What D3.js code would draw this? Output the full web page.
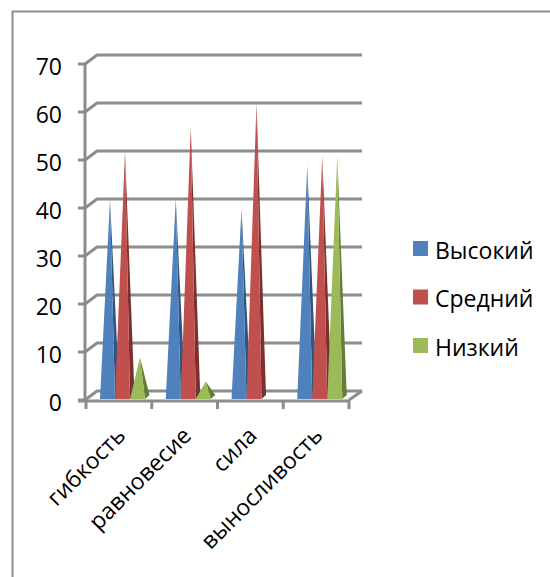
<!DOCTYPE html>
<html><head><meta charset="utf-8">
<script src="https://cdn.jsdelivr.net/npm/d3@7/dist/d3.min.js"></script>
<style>html,body{margin:0;padding:0;background:#fff}svg{display:block}text{font-family:"Open Sans","Noto Sans",sans-serif;fill:#000}</style>
</head><body><div id="c"></div>
<script>
const categories=["гибкость","равновесие","сила","выносливость"];
const seriesNames=["Высокий","Средний","Низкий"];
const high=[41,41,39,48];
const mid=[51,56,61,50];
const low=[8,3,0,50];
const yTicks=[0,10,20,30,40,50,60,70];
const colors=["#4f81bd","#c0504d","#9bbb59"];
const sideColors=["#2f5580","#7c302e","#647d37"];

const W=550,H=577;
const svg=d3.select("#c").append("svg").attr("width",W).attr("height",H);
svg.append("path").attr("d",`M12.5,${H} V11.5 H${W}`).attr("fill","none").attr("stroke","#8e8e8e").attr("stroke-width",2);

const y=d3.scaleLinear().domain([0,70]).range([400,64]);
const x=d3.scaleBand().domain(categories).range([86,349]);
const inner=d3.scaleBand().domain(seriesNames).range([14,59]);
const dx=12,dy=-9,grey="#8c8c8c";

const g=svg.append("g").attr("fill","none").attr("stroke",grey).attr("stroke-width",3);
g.selectAll("path.grid").data(yTicks).join("path").attr("class","grid")
 .attr("d",v=>`M85,${y(v)} L${85+dx},${y(v)+dy} H362`);
g.append("path").attr("d",`M349,${y(0)} L${349+dx+1},${y(0)+dy}`);

const rows=[high,mid,low];
categories.forEach((c,i)=>{
  seriesNames.forEach((s,k)=>{
    const v=rows[k][i];
    if(!v) return;
    const l=x(c)+inner(s), r=l+inner.bandwidth(), b=y(0)-1;
    const ax=(l+r)/2+2.5, ay=y(v)-4;
    const gg=svg.append("g");
    gg.append("path").attr("d",`M${r},${b} L${ax},${ay} L${r+4.5},${b-4} Z`).attr("fill",sideColors[k]);
    gg.append("path").attr("d",`M${l},${b} L${ax},${ay} L${r},${b} Z`).attr("fill",colors[k]);
  });
});

const ax=svg.append("g").attr("fill","none").attr("stroke",grey).attr("stroke-width",3);
ax.append("path").attr("d",`M85,${y(70)-1} V${y(0)+1}`);
ax.append("path").attr("d",`M78,${y(0)+1} H350`);
ax.selectAll("path.yt").data(yTicks).join("path").attr("class","yt").attr("d",v=>`M78,${y(v)} H85`);
const edges=categories.map(c=>x(c)).concat([x.range()[1]]);
ax.selectAll("path.xt").data(edges).join("path").attr("class","xt").attr("d",e=>`M${e},${y(0)} V409`);

svg.selectAll("text.yl").data(yTicks).join("text").attr("class","yl")
 .attr("x",62).attr("y",v=>y(v)+10.5).attr("text-anchor","end").attr("font-size",23).text(v=>v);
svg.selectAll("text.xl").data(categories).join("text").attr("class","xl")
 .attr("text-anchor","end").attr("font-size",23)
 .attr("transform",c=>`translate(${x(c)+x.bandwidth()/2+8},${437}) rotate(-45)`)
 .text(c=>c);
const ly=d3.scalePoint().domain(seriesNames).range([248.5,345.5]);
seriesNames.forEach((s,k)=>{
  svg.append("rect").attr("x",413).attr("y",ly(s)-7.5).attr("width",15).attr("height",15).attr("fill",colors[k]);
  svg.append("text").attr("x",435).attr("y",ly(s)+10).attr("font-size",23).text(s);
});
</script></body></html>
